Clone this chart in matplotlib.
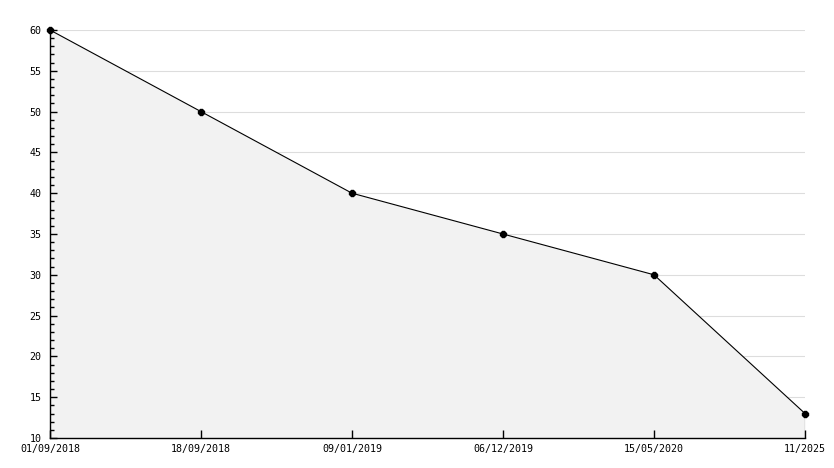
import numpy as np
import matplotlib

matplotlib.use("Agg")
import matplotlib.pyplot as plt
from matplotlib.ticker import MultipleLocator

labels = ["01/09/2018", "18/09/2018", "09/01/2019", "06/12/2019", "15/05/2020", "11/2025"]
values = [60, 50, 40, 35, 30, 13]

plt.rcParams["font.family"] = ["DejaVu Sans Mono"]

fig = plt.figure(figsize=(8.34, 4.68), dpi=100)
ax = fig.add_axes([50 / 834, 30 / 468, 755 / 834, 408 / 468])

x = np.arange(len(values))
ax.set_xlim(x[0], x[-1])
ax.set_ylim(10, 60)

ax.yaxis.set_major_locator(MultipleLocator(5))
ax.yaxis.set_minor_locator(MultipleLocator(1))
# gridlines under the fill, ticks above it
ax.hlines(np.arange(15, 61, 5), x[0], x[-1], color="#dddddd", linewidth=0.8, zorder=0)
ax.set_axisbelow(False)

ax.fill_between(x, values, 10, color="#f2f2f2", zorder=1, linewidth=0)
ax.plot(x, values, color="black", linewidth=0.8, zorder=3, clip_on=False)
ax.plot(x, values, "8", color="black", markersize=4.5, zorder=4, clip_on=False)
ax.vlines(x[-1], 10, values[-1], color="black", linewidth=0.8, zorder=3)

ax.set_xticks(x)
ax.set_xticklabels(labels)
for s in ["top", "right"]:
    ax.spines[s].set_visible(False)
ax.spines["left"].set_linewidth(1.0)
ax.spines["bottom"].set_linewidth(1.0)

ax.tick_params(axis="x", direction="in", length=6, width=1, labelsize=7.2, pad=4.5)
ax.tick_params(axis="y", which="major", direction="in", length=5, width=1, labelsize=7.2, pad=6)
ax.tick_params(axis="y", which="minor", direction="in", length=3, width=1)

fig.savefig("out.png", dpi=100)
